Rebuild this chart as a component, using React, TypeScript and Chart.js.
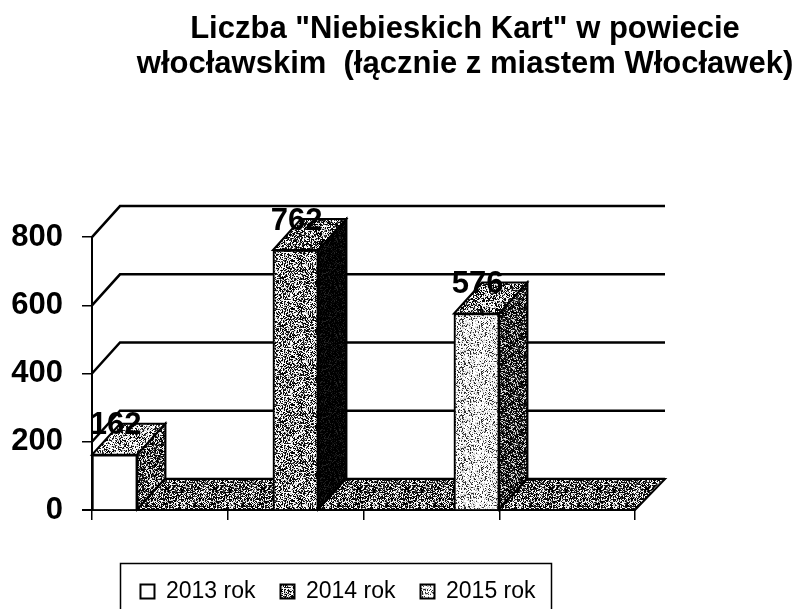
import React, { useEffect, useRef } from "react";
import { Chart, registerables } from "chart.js";

Chart.register(...registerables);

const categories = ["A", "B", "C"];
const seriesNames = ["2013 rok", "2014 rok", "2015 rok"];
const values2013 = [162, null, null];
const values2014 = [null, 762, null];
const values2015 = [null, null, 576];
const floorValues = [0, 0, 0];
const labelValues = [162, 762, 576];
const yTickStep = 200;
const yMax = 800;

const DEPTH_X = 28;
const DEPTH_Y = 31;
const FONT = "'Liberation Sans', Arial, sans-serif";

function texture(level: number, spread: number, seed: number): CanvasPattern | string {
  const c = document.createElement("canvas");
  c.width = 48;
  c.height = 48;
  const ctx = c.getContext("2d");
  if (!ctx) return "#888";
  const img = ctx.createImageData(48, 48);
  for (let y = 0; y < 48; y++) {
    for (let x = 0; x < 48; x++) {
      const h = Math.sin(x * 12.9898 + y * 78.233 + seed) * 43758.5453;
      const f = h - Math.floor(h);
      const v = level + (f - 0.5) * spread;
      const g = Math.max(0, Math.min(255, v > 128 ? v + 50 : v - 50));
      const i = (y * 48 + x) * 4;
      img.data[i] = g;
      img.data[i + 1] = g;
      img.data[i + 2] = g;
      img.data[i + 3] = 255;
    }
  }
  ctx.putImageData(img, 0, 0);
  return ctx.createPattern(c, "repeat") as CanvasPattern;
}

export default function App() {
  const ref = useRef<HTMLCanvasElement>(null);

  useEffect(() => {
    document.body.style.margin = "0";
    const canvas = ref.current;
    if (!canvas) return;

    const front = [texture(245, 40, 1), texture(140, 300, 2), texture(195, 230, 3)];
    const side = [texture(95, 260, 4), texture(30, 120, 5), texture(70, 240, 6)];
    const top = [texture(165, 280, 7), texture(110, 300, 8), texture(130, 300, 9)];
    const floorTop = texture(105, 300, 10);

    const polygon = (ctx: CanvasRenderingContext2D, pts: number[][], fill: any, stroke: boolean) => {
      ctx.beginPath();
      pts.forEach((p, i) => (i ? ctx.lineTo(p[0], p[1]) : ctx.moveTo(p[0], p[1])));
      ctx.closePath();
      ctx.fillStyle = fill;
      ctx.fill();
      if (stroke) {
        ctx.lineWidth = 2;
        ctx.strokeStyle = "#000";
        ctx.stroke();
      }
    };

    const depthPlugin = {
      id: "depth",
      afterLayout(chart: any) {
        chart.titleBlock.left = 130;
        chart.titleBlock.right = 800;
        chart.legend.left = -62;
        chart.legend.right = 738;
        chart.legend.top = 555;
      },
      beforeDatasetsDraw(chart: any) {
        const { ctx, chartArea, scales } = chart;
        ctx.save();
        ctx.strokeStyle = "#000";
        ctx.lineWidth = 2.5;
        scales.y.ticks.forEach((t: any) => {
          const y = scales.y.getPixelForValue(t.value);
          ctx.beginPath();
          ctx.moveTo(chartArea.left, y);
          ctx.lineTo(chartArea.left + DEPTH_X, y - DEPTH_Y);
          ctx.lineTo(chartArea.right + DEPTH_X + 2, y - DEPTH_Y);
          ctx.stroke();
        });
        ctx.restore();
      },
      beforeDatasetDraw(chart: any, args: any) {
        const { ctx } = chart;
        const i = args.index;
        const isFloor = i >= seriesNames.length;
        const meta = chart.getDatasetMeta(i);
        ctx.save();
        meta.data.forEach((el: any, k: number) => {
          const raw = chart.data.datasets[i].data[k];
          if (raw === null || raw === undefined) return;
          const l = el.x - el.width / 2;
          const r = el.x + el.width / 2;
          const t = el.y;
          const b = el.base;
          if (isFloor) {
            polygon(
              ctx,
              [[l, b], [r, b], [r + DEPTH_X, b - DEPTH_Y], [l + DEPTH_X, b - DEPTH_Y]],
              floorTop,
              false,
            );
          } else {
            polygon(ctx, [[r, t], [r + DEPTH_X, t - DEPTH_Y], [r + DEPTH_X, b - DEPTH_Y], [r, b]], side[i], true);
            polygon(ctx, [[l, t], [r, t], [r + DEPTH_X, t - DEPTH_Y], [l + DEPTH_X, t - DEPTH_Y]], top[i], true);
          }
        });
        ctx.restore();
      },
      afterDatasetsDraw(chart: any) {
        const { ctx, chartArea, scales } = chart;
        const y0 = scales.y.getPixelForValue(0);
        ctx.save();
        ctx.strokeStyle = "#000";
        ctx.lineWidth = 2;
        ctx.beginPath();
        ctx.moveTo(chartArea.left + DEPTH_X, y0 - DEPTH_Y);
        ctx.lineTo(chartArea.right + DEPTH_X + 2, y0 - DEPTH_Y);
        ctx.lineTo(chartArea.right, y0);
        ctx.lineTo(chartArea.left - 10, y0);
        ctx.stroke();
        ctx.restore();
        // redraw each bar's side and front over the floor's back line
        for (let i = seriesNames.length - 1; i >= 0; i--) {
          const meta = chart.getDatasetMeta(i);
          ctx.save();
          meta.data.forEach((el: any, k: number) => {
            const raw = chart.data.datasets[i].data[k];
            if (raw === null || raw === undefined) return;
            const r = el.x + el.width / 2;
            polygon(
              ctx,
              [[r, el.y], [r + DEPTH_X, el.y - DEPTH_Y], [r + DEPTH_X, el.base - DEPTH_Y], [r, el.base]],
              side[i],
              true,
            );
          });
          ctx.restore();
          meta.controller.draw();
        }
        ctx.save();
        ctx.fillStyle = "#000";
        ctx.font = `bold 31px ${FONT}`;
        ctx.textAlign = "center";
        ctx.textBaseline = "middle";
        labelValues.forEach((v, k) => {
          const el = chart.getDatasetMeta(k).data[k];
          ctx.fillText(String(v), el.x + 1, el.y - 29);
        });
        ctx.restore();
      },
      afterDraw(chart: any) {
        const { ctx } = chart;
        ctx.save();
        ctx.strokeStyle = "#000";
        ctx.lineWidth = 1.5;
        ctx.strokeRect(120.5, 563.5, 431, 60);
        ctx.restore();
      },
    };

    const bar = (label: string, data: (number | null)[], stack: string, fill: any) => ({
      label,
      data,
      stack,
      backgroundColor: fill,
      borderColor: "#000",
      borderWidth: 2,
      categoryPercentage: 1,
      barPercentage: 1,
    });

    const chart = new Chart(canvas, {
      type: "bar",
      data: {
        labels: categories,
        datasets: [
          bar(seriesNames[0], values2013, "main", front[0]),
          bar(seriesNames[1], values2014, "main", front[1]),
          bar(seriesNames[2], values2015, "main", front[2]),
          bar("floor1", floorValues, "floor1", "rgba(0,0,0,0)"),
          bar("floor2", floorValues, "floor2", "rgba(0,0,0,0)"),
          bar("floor3", floorValues, "floor3", "rgba(0,0,0,0)"),
        ] as any,
      },
      options: {
        responsive: false,
        animation: false,
        layout: { padding: { right: 165 } },
        plugins: {
          tooltip: { enabled: false },
          title: {
            display: true,
            text: ['Liczba "Niebieskich Kart" w powiecie', "włocławskim  (łącznie z miastem Włocławek)"],
            color: "#000",
            font: { family: FONT, size: 31, weight: "bold", lineHeight: 1.13 },
            padding: { top: 12, bottom: 155 },
          },
          legend: {
            position: "bottom",
            labels: {
              color: "#000",
              boxWidth: 14,
              boxHeight: 14,
              padding: 25,
              font: { family: FONT, size: 23 },
              filter: (item: any) => item.datasetIndex < seriesNames.length,
            },
          },
        },
        scales: {
          x: { display: false, stacked: true, offset: true, grid: { offset: true } },
          x2: {
            type: "linear",
            position: "bottom",
            axis: "x",
            offset: false,
            min: 0,
            max: 4,
            ticks: { stepSize: 1, display: false },
            grid: {
              offset: false,
              drawOnChartArea: false,
              drawTicks: true,
              tickLength: 10,
              color: "#000",
              lineWidth: 1.5,
            },
            border: { color: "#000", width: 2 },
            afterFit: (s: any) => {
              s.height = 41;
            },
          },
          y: {
            stacked: true,
            min: 0,
            max: yMax,
            ticks: {
              stepSize: yTickStep,
              color: "#000",
              padding: 19,
              font: { family: FONT, size: 31, weight: "bold" },
            },
            grid: { drawOnChartArea: false, drawTicks: true, tickLength: 10, color: "#000", lineWidth: 1.5 },
            border: { color: "#000", width: 2 },
            afterFit: (s: any) => {
              s.width = 92;
            },
          },
        },
      } as any,
      plugins: [depthPlugin as any],
    });

    return () => chart.destroy();
  }, []);

  return <canvas ref={ref} width={800} height={609} style={{ display: "block" }} />;
}
